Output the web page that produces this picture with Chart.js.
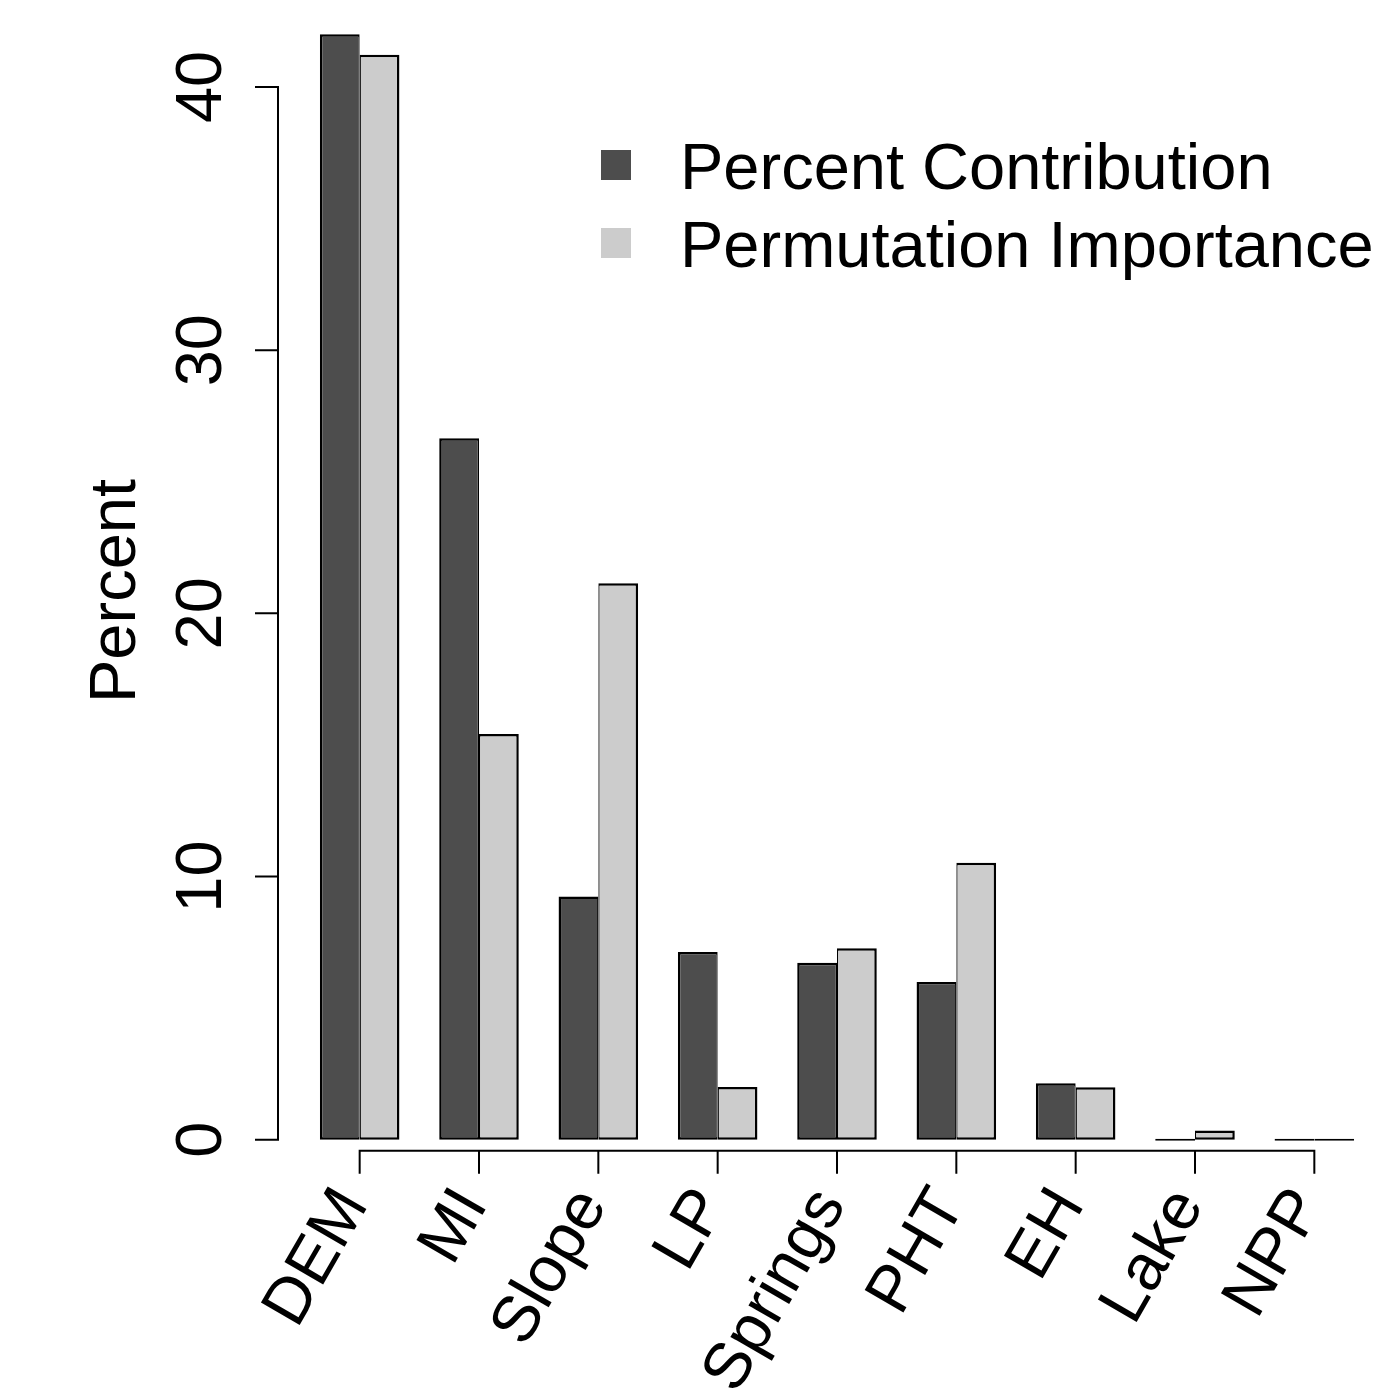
<!DOCTYPE html>
<html lang="en">
<head>
  <meta charset="UTF-8">
  <title>Percent contribution and permutation importance</title>
  <style>
    html, body { margin: 0; padding: 0; background: #fff; }
    #wrap { width: 1393px; height: 1392px; position: relative; }
  </style>
</head>
<body>
  <div id="wrap"><canvas id="chart"></canvas></div>

  <script src="https://cdn.jsdelivr.net/npm/chart.js"></script>
  <script>
    const variables = ['DEM', 'MI', 'Slope', 'LP', 'Springs', 'PHT', 'EH', 'Lake', 'NPP'];
    const contribution = [42.0, 26.65, 9.24, 7.13, 6.73, 5.99, 2.15, 0, 0];
    const permutation = [41.22, 15.42, 21.14, 2.01, 7.28, 10.53, 2.0, 0.35, 0];
    const seriesNames = ['Percent Contribution', 'Permutation Importance'];
    const yTicks = [0, 10, 20, 30, 40];

    const FONT = '"Liberation Sans", Arial, Helvetica, sans-serif';
    const textFont = { family: FONT, size: 65 };

    // R-style axes: y axis pulled off the plot, x axis a bit below zero
    const baseAxes = {
      id: 'baseAxes',
      afterDraw(chart) {
        const { ctx, chartArea, scales: { x, y } } = chart;
        ctx.save();
        ctx.strokeStyle = '#000';
        ctx.lineWidth = 2;
        ctx.lineCap = 'square';

        const ax = chartArea.left - 22;
        const yTop = y.getPixelForValue(yTicks[yTicks.length - 1]);
        const yBot = y.getPixelForValue(yTicks[0]);
        ctx.beginPath();
        ctx.moveTo(ax, yTop);
        ctx.lineTo(ax, yBot);
        yTicks.forEach(v => {
          const py = y.getPixelForValue(v);
          ctx.moveTo(ax - 22, py);
          ctx.lineTo(ax, py);
        });
        ctx.stroke();

        const ay = y.getPixelForValue(0) + 11;
        ctx.beginPath();
        ctx.moveTo(x.getPixelForValue(0), ay);
        ctx.lineTo(x.getPixelForValue(variables.length - 1), ay);
        variables.forEach((v, i) => {
          const px = x.getPixelForValue(i);
          ctx.moveTo(px, ay);
          ctx.lineTo(px, ay + 22);
        });
        ctx.stroke();
        ctx.restore();
      }
    };

    // legend inside the plot, squares without border
    const boxLegend = {
      id: 'boxLegend',
      afterDraw(chart) {
        const { ctx } = chart;
        ctx.save();
        ctx.font = '65px ' + FONT;
        ctx.textBaseline = 'alphabetic';
        ctx.textAlign = 'left';
        chart.data.datasets.forEach((ds, i) => {
          const top = 150 + i * 78;
          ctx.fillStyle = ds.backgroundColor;
          ctx.fillRect(601, top, 30, 30);
          ctx.fillStyle = '#000';
          ctx.fillText(ds.label, 680, top + 39);
        });
        ctx.restore();
      }
    };

    new Chart(document.getElementById('chart'), {
      type: 'bar',
      data: {
        labels: variables,
        datasets: [
          {
            label: seriesNames[0],
            data: contribution,
            backgroundColor: '#4d4d4d',
            borderColor: '#000',
            borderWidth: { top: 2.5, left: 2.5, right: 1.25, bottom: 2.5 },
            borderSkipped: false
          },
          {
            label: seriesNames[1],
            data: permutation,
            backgroundColor: '#cccccc',
            borderColor: '#000',
            borderWidth: { top: 2.5, left: 1.25, right: 2.5, bottom: 2.5 },
            borderSkipped: false
          }
        ]
      },
      options: {
        responsive: true,
        maintainAspectRatio: false,
        animation: false,
        events: [],
        categoryPercentage: 2 / 3,
        barPercentage: 1,
        minBarLength: 2,
        layout: { padding: { top: 8, right: 19, bottom: 0, left: 0 } },
        plugins: {
          legend: { display: false },
          tooltip: { enabled: false }
        },
        scales: {
          x: {
            offset: true,
            grid: { display: false, drawTicks: false },
            border: { display: false },
            ticks: {
              autoSkip: false,
              minRotation: 60,
              maxRotation: 60,
              padding: 2,
              labelOffset: -6,
              color: '#000',
              font: textFont
            },
            afterFit(scale) {
              scale.height = 218;
              scale.paddingLeft = 0;
              scale.paddingRight = 0;
            }
          },
          y: {
            min: -1.3,
            max: 43,
            grid: { display: false, drawTicks: false },
            border: { display: false },
            afterBuildTicks(scale) {
              scale.ticks = yTicks.map(v => ({ value: v }));
            },
            ticks: {
              minRotation: 90,
              maxRotation: 90,
              crossAlign: 'center',
              padding: 61,
              color: '#000',
              font: textFont
            },
            title: {
              display: true,
              text: 'Percent',
              color: '#000',
              font: textFont,
              padding: { top: 78, bottom: 0 }
            },
            afterFit(scale) {
              scale.width = 300;
              scale.paddingTop = 0;
              scale.paddingBottom = 0;
            }
          }
        }
      },
      plugins: [baseAxes, boxLegend]
    });
  </script>
</body>
</html>
